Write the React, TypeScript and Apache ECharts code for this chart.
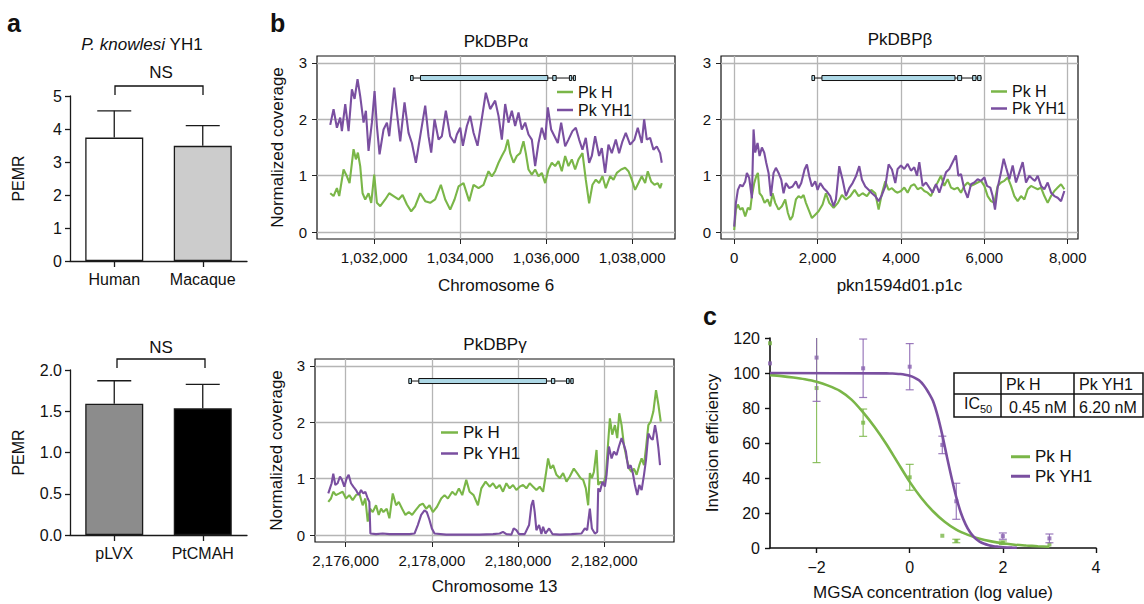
import React, { useEffect, useRef } from 'react';
import * as echarts from 'echarts';

const FONT = '"Liberation Sans", Arial, Helvetica, sans-serif';
const GREEN = '#7ab648';
const PURPLE = '#7a4fa0';
const INK = '#111111';

// ---------- Panel a ----------
const aTopCategories = ['Human', 'Macaque'];
const aTopMeans = [3.74, 3.49];
const aTopErrors = [0.81, 0.61];
const aTopColors = ['#ffffff', '#cccccc'];
const aBottomCategories = ['pLVX', 'PtCMAH'];
const aBottomMeans = [1.59, 1.535];
const aBottomErrors = [0.28, 0.29];
const aBottomColors = ['#8c8c8c', '#000000'];

// ---------- Panel b ----------
const covTicksY = [0, 1, 2, 3];
const alphaTicksX = [1032000, 1034000, 1036000, 1038000];
const betaTicksX = [0, 2000, 4000, 6000, 8000];
const gammaTicksX = [2176000, 2178000, 2180000, 2182000];
const GENE_Y = 2.73;

const alphaH = [[1030977,0.69],[1031054,0.64],[1031132,0.78],[1031186,0.64],[1031287,1.11],[1031364,0.99],[1031426,0.87],[1031519,1.47],[1031574,1.29],[1031620,1.41],[1031674,1.17],[1031729,0.69],[1031791,0.58],[1031868,0.69],[1031930,0.52],[1032000,1.02],[1032062,0.52],[1032140,0.46],[1032256,0.58],[1032349,0.69],[1032450,0.64],[1032566,0.58],[1032659,0.66],[1032760,0.49],[1032860,0.37],[1032953,0.46],[1033070,0.69],[1033186,0.55],[1033302,0.52],[1033418,0.58],[1033550,0.84],[1033651,0.58],[1033767,0.40],[1033868,0.58],[1033961,0.81],[1034077,0.87],[1034209,0.55],[1034310,0.84],[1034426,0.78],[1034542,0.84],[1034658,1.08],[1034736,0.99],[1034813,1.08],[1034891,1.23],[1034968,1.35],[1035046,1.46],[1035108,1.64],[1035162,1.40],[1035240,1.23],[1035317,1.35],[1035395,1.40],[1035472,1.61],[1035526,1.40],[1035588,1.11],[1035666,1.02],[1035743,1.11],[1035821,0.99],[1035898,1.05],[1035976,0.87],[1036053,1.11],[1036131,1.23],[1036208,1.17],[1036286,1.26],[1036363,1.08],[1036441,1.35],[1036518,1.17],[1036596,1.29],[1036673,1.11],[1036751,1.29],[1036844,1.40],[1036921,0.93],[1036999,0.51],[1037076,0.84],[1037154,0.93],[1037231,0.87],[1037309,0.99],[1037386,0.78],[1037487,0.99],[1037565,0.93],[1037642,1.05],[1037743,1.11],[1037836,1.14],[1037913,1.08],[1037991,0.93],[1038068,0.75],[1038146,0.87],[1038223,0.99],[1038301,0.87],[1038363,1.08],[1038440,0.90],[1038518,0.84],[1038595,0.87],[1038650,0.78],[1038688,0.87]];
const alphaYH1 = [[1030977,1.90],[1031054,2.18],[1031132,1.85],[1031209,2.03],[1031248,1.79],[1031326,2.27],[1031403,1.79],[1031481,2.53],[1031543,2.36],[1031612,2.71],[1031674,2.41],[1031752,1.94],[1031806,2.15],[1031868,1.44],[1031946,1.94],[1032008,2.50],[1032062,1.88],[1032124,1.38],[1032217,1.82],[1032295,1.94],[1032349,1.70],[1032465,2.56],[1032527,2.12],[1032605,1.61],[1032705,2.30],[1032798,1.76],[1032876,1.58],[1032969,1.23],[1033070,1.70],[1033186,2.24],[1033263,1.70],[1033325,1.41],[1033403,2.00],[1033496,1.64],[1033573,1.70],[1033666,2.15],[1033767,1.70],[1033868,1.58],[1033922,1.73],[1034000,1.85],[1034062,1.53],[1034155,1.88],[1034232,2.06],[1034310,1.76],[1034403,1.53],[1034488,1.94],[1034596,2.47],[1034697,2.18],[1034813,2.33],[1034891,2.06],[1034968,1.64],[1035046,2.27],[1035123,1.94],[1035201,2.15],[1035278,1.88],[1035356,2.12],[1035433,1.82],[1035511,1.94],[1035588,1.73],[1035666,1.64],[1035743,1.17],[1035821,1.58],[1035898,1.85],[1035976,1.64],[1036038,2.21],[1036115,1.82],[1036193,1.70],[1036270,1.58],[1036348,1.94],[1036441,1.52],[1036518,1.64],[1036611,1.79],[1036689,1.85],[1036766,1.64],[1036844,1.46],[1036921,1.67],[1036999,1.23],[1037061,1.35],[1037138,1.70],[1037231,1.35],[1037293,1.49],[1037371,1.05],[1037448,1.55],[1037526,1.40],[1037619,1.64],[1037696,1.40],[1037774,1.61],[1037851,1.76],[1037952,1.55],[1038053,1.64],[1038130,1.85],[1038223,1.58],[1038278,2.00],[1038340,1.64],[1038417,1.67],[1038495,1.46],[1038572,1.52],[1038650,1.40],[1038688,1.23]];
const betaH = [[0,0.04],[40,0.40],[88,0.49],[144,0.40],[200,0.43],[264,0.28],[328,0.43],[384,0.40],[424,0.64],[480,0.87],[528,0.99],[568,1.05],[608,0.69],[664,0.64],[728,0.52],[800,0.58],[864,0.46],[920,0.69],[984,0.52],[1064,0.40],[1144,0.46],[1224,0.58],[1288,0.34],[1344,0.22],[1400,0.28],[1480,0.58],[1544,0.64],[1608,0.61],[1664,0.66],[1720,0.52],[1784,0.40],[1864,0.25],[1944,0.31],[2024,0.37],[2120,0.49],[2200,0.69],[2280,0.52],[2384,0.43],[2488,0.52],[2584,0.66],[2680,0.58],[2784,0.64],[2888,0.75],[2984,0.64],[3080,0.69],[3184,0.64],[3288,0.75],[3384,0.69],[3464,0.40],[3544,0.69],[3624,0.90],[3704,0.75],[3784,0.78],[3864,0.72],[3920,0.70],[4000,0.73],[4080,0.79],[4160,0.70],[4240,0.82],[4320,0.85],[4400,0.76],[4480,0.79],[4560,0.73],[4640,0.70],[4720,0.64],[4800,0.79],[4880,0.88],[4960,1.00],[5040,0.82],[5120,0.94],[5200,0.79],[5280,0.76],[5360,0.79],[5440,0.70],[5520,0.82],[5600,0.88],[5680,0.82],[5760,0.85],[5840,0.88],[5920,0.91],[6000,0.82],[6080,0.64],[6160,0.55],[6240,0.52],[6320,0.82],[6400,0.88],[6480,0.91],[6560,0.97],[6640,0.82],[6720,0.64],[6800,0.55],[6880,0.64],[6960,0.58],[7040,0.76],[7120,0.82],[7200,0.79],[7280,0.76],[7360,0.79],[7440,0.64],[7520,0.52],[7600,0.64],[7680,0.73],[7760,0.79],[7840,0.85],[7920,0.76]];
const betaYH1 = [[0,0.10],[40,0.52],[88,0.75],[144,0.84],[200,0.81],[264,0.90],[304,1.05],[360,0.96],[424,0.60],[464,1.82],[504,1.41],[560,1.58],[608,1.35],[664,1.50],[720,1.41],[768,1.23],[824,1.05],[880,0.64],[944,1.05],[1000,1.14],[1064,1.05],[1128,0.93],[1184,0.69],[1240,0.87],[1320,0.78],[1400,0.81],[1480,0.90],[1544,0.78],[1608,0.87],[1688,1.11],[1744,1.20],[1800,0.99],[1864,0.81],[1944,0.90],[2000,0.75],[2064,0.87],[2144,0.78],[2224,0.72],[2304,0.64],[2384,0.46],[2440,0.58],[2520,1.17],[2600,0.93],[2680,0.64],[2760,0.78],[2840,0.87],[2920,0.99],[3000,1.17],[3064,0.93],[3144,0.81],[3224,0.75],[3304,0.69],[3384,0.64],[3464,0.55],[3544,0.66],[3624,0.81],[3704,1.20],[3784,1.11],[3864,0.87],[3920,1.12],[4000,1.18],[4080,1.12],[4160,1.21],[4240,1.09],[4320,1.15],[4384,1.00],[4440,1.24],[4520,0.82],[4600,0.88],[4680,0.79],[4760,0.70],[4840,0.85],[4920,0.70],[5000,0.88],[5080,1.06],[5160,1.12],[5240,1.24],[5320,1.36],[5376,1.00],[5440,1.03],[5520,0.76],[5600,0.61],[5680,0.85],[5760,0.88],[5840,0.94],[5920,0.91],[6000,0.97],[6064,0.82],[6144,0.79],[6200,0.64],[6256,0.40],[6320,0.79],[6400,1.06],[6464,1.30],[6520,1.15],[6600,0.94],[6680,1.18],[6760,0.88],[6840,1.06],[6920,1.24],[7000,0.88],[7080,1.00],[7160,0.94],[7216,0.91],[7280,1.00],[7360,0.82],[7440,0.76],[7520,0.88],[7600,0.70],[7680,0.64],[7760,0.61],[7840,0.55],[7920,0.73]];
const gammaH = [[2175597,0.59],[2175659,0.65],[2175713,0.77],[2175775,0.71],[2175853,0.74],[2175930,0.77],[2176008,0.65],[2176085,0.71],[2176163,0.62],[2176240,0.71],[2176318,0.74],[2176395,0.53],[2176457,0.65],[2176512,0.24],[2176566,0.47],[2176628,0.41],[2176705,0.53],[2176767,0.36],[2176822,0.47],[2176876,0.41],[2176953,0.47],[2177015,0.30],[2177093,0.74],[2177170,0.53],[2177232,0.59],[2177310,0.47],[2177387,0.36],[2177465,0.41],[2177542,0.36],[2177620,0.44],[2177713,0.53],[2177790,0.56],[2177868,0.47],[2177945,0.53],[2178023,0.41],[2178116,0.50],[2178217,0.65],[2178294,0.71],[2178372,0.65],[2178472,0.77],[2178550,0.71],[2178627,0.83],[2178705,0.71],[2178798,0.98],[2178875,0.77],[2178968,0.71],[2179069,0.53],[2179147,0.83],[2179247,0.95],[2179340,0.86],[2179418,0.92],[2179495,0.83],[2179573,0.89],[2179650,0.77],[2179728,0.92],[2179805,0.83],[2179883,0.89],[2179960,0.80],[2180038,0.86],[2180115,0.89],[2180193,0.83],[2180270,0.92],[2180348,0.86],[2180425,0.80],[2180503,0.86],[2180580,0.77],[2180642,1.07],[2180696,1.36],[2180751,1.18],[2180813,1.24],[2180890,1.07],[2180968,1.01],[2181045,1.10],[2181123,0.95],[2181200,1.04],[2181293,1.18],[2181370,1.10],[2181448,1.01],[2181510,0.98],[2181572,0.83],[2181626,0.53],[2181665,1.10],[2181712,1.01],[2181758,1.12],[2181820,1.51],[2181859,0.89],[2181913,0.95],[2181975,0.89],[2182037,1.07],[2182091,1.66],[2182130,2.07],[2182184,1.78],[2182246,1.95],[2182300,1.72],[2182347,2.16],[2182401,1.95],[2182455,1.60],[2182517,1.36],[2182579,1.18],[2182633,1.12],[2182688,1.18],[2182750,1.07],[2182812,1.24],[2182866,1.36],[2182921,1.24],[2182967,1.54],[2183022,1.95],[2183076,2.01],[2183138,2.19],[2183200,2.57],[2183255,2.31],[2183309,2.01]];
const gammaYH1 = [[2175597,0.74],[2175636,0.83],[2175675,0.92],[2175713,1.09],[2175760,0.89],[2175814,0.92],[2175868,1.04],[2175915,0.98],[2175969,0.86],[2176023,1.01],[2176070,1.07],[2176124,0.92],[2176178,0.86],[2176240,0.80],[2176302,0.71],[2176357,0.80],[2176411,0.74],[2176457,0.77],[2176512,0.65],[2176550,0.59],[2176574,0.03],[2176705,0.02],[2176860,0.03],[2177015,0.02],[2177248,0.02],[2177480,0.02],[2177597,0.03],[2177674,0.18],[2177752,0.36],[2177829,0.44],[2177883,0.41],[2177945,0.27],[2178000,0.12],[2178062,0.03],[2178333,0.01],[2178720,0.01],[2179108,0.01],[2179418,0.02],[2179573,0.03],[2179650,0.06],[2179728,0.02],[2179844,0.01],[2179898,0.12],[2179960,0.09],[2180022,0.02],[2180154,0.02],[2180255,0.18],[2180309,0.53],[2180348,0.62],[2180386,0.41],[2180425,0.09],[2180487,0.18],[2180541,0.02],[2180580,0.15],[2180634,0.03],[2180720,0.12],[2180797,0.02],[2180968,0.01],[2181239,0.02],[2181471,0.03],[2181549,0.12],[2181603,0.09],[2181665,0.47],[2181712,0.12],[2181781,0.03],[2181836,0.06],[2181859,0.83],[2181898,0.77],[2181960,0.95],[2182014,0.86],[2182053,1.07],[2182107,1.57],[2182169,1.36],[2182223,1.48],[2182285,1.42],[2182339,1.57],[2182401,1.72],[2182455,1.60],[2182502,1.48],[2182556,1.18],[2182610,1.24],[2182657,1.12],[2182711,0.89],[2182765,0.71],[2182812,0.89],[2182866,0.80],[2182921,1.07],[2182967,1.33],[2183022,1.80],[2183076,1.72],[2183123,1.69],[2183177,1.95],[2183216,1.78],[2183255,1.54],[2183293,1.24]];

const alphaGeneSpan = [1032845, 1036672];
const alphaGeneExons = [[1032845,1032905],[1033076,1036037],[1036153,1036232],[1036540,1036594],[1036633,1036672]];
const betaGeneSpan = [1864, 5936];
const betaGeneExons = [[1864,1928],[2104,5296],[5360,5456],[5720,5800],[5840,5920]];
const gammaGeneSpan = [2177465, 2181279];
const gammaGeneExons = [[2177465,2177527],[2177697,2180658],[2180774,2180851],[2181123,2181185],[2181224,2181279]];

// ---------- Panel c ----------
const cTicksX = [-2, 0, 2, 4];
const cDoseX = [-3, -2, -1, 0, 0.7, 1, 2, 3];
const cMeanH = [117, 91.4, 71.6, 40.4, 7, 4, 3, 2];
const cErrH = [0, 42.6, 7.8, 7.4, 0, 1, 1, 0];
const cMeanYH1 = [105.5, 108.8, 102.7, 103.6, 58.9, 26.7, 6.8, 5.5];
const cErrYH1 = [0, 25, 16.7, 13.2, 5, 10.3, 1.8, 2.5];
const cCurveH = [[-3,98.8],[-2.75,98.2],[-2.5,97.4],[-2.25,96.4],[-2,95.0],[-1.75,92.8],[-1.5,89.8],[-1.25,84.8],[-1,77.5],[-0.75,69.0],[-0.5,59.3],[-0.25,48.5],[0,37.8],[0.25,28.6],[0.5,21.0],[0.75,15.0],[1,10.5],[1.25,7.5],[1.5,5.3],[1.75,3.8],[2,2.7],[2.25,1.9],[2.5,1.4],[2.75,1.0],[3,0.7]];
const cCurveYH1 = [[-3,100],[-0.5,99.8],[-0.4,99.7],[-0.3,99.6],[-0.2,99.4],[-0.1,99.0],[0,98.4],[0.1,97.4],[0.2,95.8],[0.3,93.0],[0.4,89.0],[0.5,84.0],[0.6,75.5],[0.7,64.5],[0.8,52.0],[0.9,40.0],[1.0,29.0],[1.1,20.0],[1.2,13.5],[1.3,8.8],[1.4,5.7],[1.5,3.7],[1.6,2.4],[1.7,1.6],[1.8,1.0],[1.9,0.7],[2.0,0.45],[2.1,0.3],[2.2,0.2],[2.3,0.13]];
const ic50Header = ['Pk H', 'Pk YH1'];
const ic50Values = ['0.45 nM', '6.20 nM'];

const fmtBp = (v: number) => v.toLocaleString('en-US');

function renderUpperError(params: any, api: any) {
  const i = api.value(0);
  const m = api.value(1);
  const e = api.value(2);
  const base = api.coord([i, m]);
  const top = api.coord([i, m + e]);
  const hw = 17;
  const st = { stroke: '#1a1a1a', lineWidth: 1.3 };
  return {
    type: 'group',
    children: [
      { type: 'line', shape: { x1: base[0], y1: base[1], x2: top[0], y2: top[1] }, style: st },
      { type: 'line', shape: { x1: top[0] - hw, y1: top[1], x2: top[0] + hw, y2: top[1] }, style: st },
    ],
  };
}

function renderGene(params: any, api: any) {
  const kind = api.value(2);
  const a = api.coord([api.value(0), GENE_Y]);
  const b = api.coord([api.value(1), GENE_Y]);
  if (kind === 0) {
    return { type: 'line', shape: { x1: a[0], y1: a[1], x2: b[0], y2: b[1] }, style: { stroke: '#111', lineWidth: 1 } };
  }
  return {
    type: 'rect',
    shape: { x: a[0], y: a[1] - 2.5, width: Math.max(b[0] - a[0], 2), height: 5 },
    style: { fill: '#add8e6', stroke: '#111', lineWidth: 1 },
  };
}

function renderBothError(color: string) {
  return (params: any, api: any) => {
    const x = api.value(0);
    const m = api.value(1);
    const e = api.value(2);
    if (!e) return { type: 'group', children: [] };
    const lo = api.coord([x, m - e]);
    const hi = api.coord([x, m + e]);
    const hw = 4;
    const st = { stroke: color, lineWidth: 1.2, opacity: 0.85 };
    return {
      type: 'group',
      children: [
        { type: 'line', shape: { x1: lo[0], y1: lo[1], x2: hi[0], y2: hi[1] }, style: st },
        { type: 'line', shape: { x1: lo[0] - hw, y1: lo[1], x2: lo[0] + hw, y2: lo[1] }, style: st },
        { type: 'line', shape: { x1: hi[0] - hw, y1: hi[1], x2: hi[0] + hw, y2: hi[1] }, style: st },
      ],
    };
  };
}

const geneData = (span: number[], exons: number[][]) => [[span[0], span[1], 0], ...exons.map((e) => [e[0], e[1], 1])];

function barAxisX(idx: number, cats: string[]) {
  return {
    type: 'category', gridIndex: idx, data: cats,
    axisLine: { show: true, onZero: false, lineStyle: { color: '#1a1a1a', width: 1.3 } },
    axisTick: { show: true, alignWithLabel: true, length: 6, lineStyle: { color: '#1a1a1a', width: 1.3 } },
    axisLabel: { fontSize: 16, color: INK, margin: 10, fontFamily: FONT },
    splitLine: { show: false },
  };
}
function barAxisY(idx: number, max: number, interval: number, fmt: (v: number) => string) {
  return {
    type: 'value', gridIndex: idx, min: 0, max, interval,
    name: 'PEMR', nameLocation: 'middle', nameGap: 44,
    nameTextStyle: { fontSize: 16, color: INK, fontFamily: FONT },
    axisLine: { show: true, onZero: false, lineStyle: { color: '#1a1a1a', width: 1.3 } },
    axisTick: { show: true, length: 5, lineStyle: { color: '#1a1a1a', width: 1.3 } },
    axisLabel: { fontSize: 16, color: INK, margin: 8, formatter: fmt, fontFamily: FONT },
    splitLine: { show: false },
  };
}
function covAxisX(idx: number, min: number, max: number, ticks: number[], name: string) {
  return {
    type: 'value', gridIndex: idx, min, max,
    name, nameLocation: 'middle', nameGap: 38,
    nameTextStyle: { fontSize: 17, color: INK, fontFamily: FONT },
    axisLine: { show: false, onZero: false },
    axisTick: { show: true, inside: false, length: 5, customValues: ticks, lineStyle: { color: '#222', width: 1 } },
    axisLabel: { customValues: ticks, formatter: fmtBp, fontSize: 15, color: INK, margin: 11, fontFamily: FONT },
    splitLine: { show: true, lineStyle: { color: '#b5b5b5', width: 1.3 } },
  };
}
function covAxisY(idx: number, withName: boolean) {
  return {
    type: 'value', gridIndex: idx, min: -0.12, max: 3.12,
    name: withName ? 'Normalized coverage' : '', nameLocation: 'middle', nameGap: 31,
    nameTextStyle: { fontSize: 17, color: INK, fontFamily: FONT },
    axisLine: { show: false, onZero: false },
    axisTick: { show: true, inside: false, length: 5, customValues: covTicksY, lineStyle: { color: '#222', width: 1 } },
    axisLabel: { customValues: covTicksY, fontSize: 15, color: INK, margin: 10, fontFamily: FONT },
    splitLine: { show: true, lineStyle: { color: '#b5b5b5', width: 1.3 } },
  };
}

const covLine = (name: string, data: number[][], axis: number, color: string) => ({
  type: 'line', name, xAxisIndex: axis, yAxisIndex: axis, data,
  symbol: 'none', showSymbol: false, silent: true,
  lineStyle: { color, width: 2.1 }, itemStyle: { color },
});
const geneSeries = (axis: number, span: number[], exons: number[][]) => ({
  type: 'custom', xAxisIndex: axis, yAxisIndex: axis, data: geneData(span, exons),
  renderItem: renderGene, silent: true, z: 4, clip: false,
});

const legendBase = (left: number, top: number, fontSize: number, lineHeight: number, iw: number, ih: number) => ({
  data: ['Pk H', 'Pk YH1'], orient: 'vertical', left, top, padding: 0, itemGap: 0,
  icon: 'rect', itemWidth: iw, itemHeight: ih, selectedMode: false,
  textStyle: { fontSize, lineHeight, color: INK, fontFamily: FONT },
});

const txt = (text: string, x: number, y: number, fontSize: number, align = 'center', extra: any = {}) => ({
  type: 'text', x, y, silent: true,
  style: { text, fontSize, fontFamily: FONT, fill: INK, align, verticalAlign: 'middle', ...extra },
});
const seg = (x1: number, y1: number, x2: number, y2: number, lw = 1.3) => ({
  type: 'line', silent: true, shape: { x1, y1, x2, y2 }, style: { stroke: '#111', lineWidth: lw },
});

const option: any = {
  animation: false,
  backgroundColor: '#ffffff',
  textStyle: { fontFamily: FONT },
  grid: [
    { left: 70, top: 96, width: 177, height: 165, outerBoundsMode: 'none', containLabel: false },
    { left: 70, top: 370, width: 177, height: 165, outerBoundsMode: 'none', containLabel: false },
    { left: 317, top: 56, width: 358, height: 183, show: true, borderColor: '#111', borderWidth: 1.2, backgroundColor: 'transparent', outerBoundsMode: 'none', containLabel: false },
    { left: 721, top: 56, width: 357, height: 183, show: true, borderColor: '#111', borderWidth: 1.2, backgroundColor: 'transparent', outerBoundsMode: 'none', containLabel: false },
    { left: 315, top: 359, width: 359, height: 183, show: true, borderColor: '#111', borderWidth: 1.2, backgroundColor: 'transparent', outerBoundsMode: 'none', containLabel: false },
    { left: 770, top: 338, width: 326, height: 210, outerBoundsMode: 'none', containLabel: false },
  ],
  xAxis: [
    barAxisX(0, aTopCategories),
    barAxisX(1, aBottomCategories),
    covAxisX(2, 1030669, 1038996, alphaTicksX, 'Chromosome 6'),
    covAxisX(3, -317, 8247, betaTicksX, 'pkn1594d01.p1c'),
    { ...covAxisX(4, 2175289, 2183617, gammaTicksX, 'Chromosome 13'), nameGap: 36 },
    {
      type: 'value', gridIndex: 5, min: -3, max: 4,
      name: 'MGSA concentration (log value)', nameLocation: 'middle', nameGap: 36,
      nameTextStyle: { fontSize: 17, color: INK, fontFamily: FONT },
      axisLine: { show: true, onZero: false, lineStyle: { color: '#111', width: 1.6 } },
      axisTick: { show: true, length: 5, customValues: cTicksX, lineStyle: { color: '#111', width: 1.4 } },
      axisLabel: { customValues: cTicksX, fontSize: 16, color: INK, margin: 11, fontFamily: FONT,
        formatter: (v: number) => (v < 0 ? '\u2212' + Math.abs(v) : String(v)) },
      splitLine: { show: false },
    },
  ],
  yAxis: [
    barAxisY(0, 5, 1, (v: number) => String(v)),
    barAxisY(1, 2, 0.5, (v: number) => v.toFixed(1)),
    covAxisY(2, true),
    covAxisY(3, false),
    { ...covAxisY(4, true), nameGap: 30 },
    {
      type: 'value', gridIndex: 5, min: 0, max: 120, interval: 20,
      name: 'Invasion efficiency', nameLocation: 'middle', nameGap: 49,
      nameTextStyle: { fontSize: 17, color: INK, fontFamily: FONT },
      axisLine: { show: true, onZero: false, lineStyle: { color: '#111', width: 1.6 } },
      axisTick: { show: true, length: 5, lineStyle: { color: '#111', width: 1.4 } },
      axisLabel: { fontSize: 16, color: INK, margin: 10, fontFamily: FONT },
      splitLine: { show: false },
    },
  ],
  legend: [
    legendBase(557, 83, 16, 18, 16, 2.5),
    legendBase(991, 83, 16, 17, 16, 2.5),
    legendBase(441, 422, 17, 21, 17, 2.5),
    legendBase(1011, 447, 17, 19.5, 19, 3),
  ],
  series: [
    // panel a
    {
      type: 'bar', xAxisIndex: 0, yAxisIndex: 0, barWidth: 58, silent: true,
      itemStyle: { borderColor: '#1a1a1a', borderWidth: 1.3 },
      data: aTopMeans.map((v, i) => ({ value: v, itemStyle: { color: aTopColors[i], borderColor: '#1a1a1a', borderWidth: 1.3 } })),
    },
    {
      type: 'custom', xAxisIndex: 0, yAxisIndex: 0, z: 5, silent: true,
      data: aTopMeans.map((v, i) => [i, v, aTopErrors[i]]), renderItem: renderUpperError,
    },
    {
      type: 'bar', xAxisIndex: 1, yAxisIndex: 1, barWidth: 58, silent: true,
      itemStyle: { borderColor: '#1a1a1a', borderWidth: 1.3 },
      data: aBottomMeans.map((v, i) => ({ value: v, itemStyle: { color: aBottomColors[i], borderColor: '#1a1a1a', borderWidth: 1.3 } })),
    },
    {
      type: 'custom', xAxisIndex: 1, yAxisIndex: 1, z: 5, silent: true,
      data: aBottomMeans.map((v, i) => [i, v, aBottomErrors[i]]), renderItem: renderUpperError,
    },
    // panel b
    covLine('Pk H', alphaH, 2, GREEN),
    covLine('Pk YH1', alphaYH1, 2, PURPLE),
    geneSeries(2, alphaGeneSpan, alphaGeneExons),
    covLine('Pk H', betaH, 3, GREEN),
    covLine('Pk YH1', betaYH1, 3, PURPLE),
    geneSeries(3, betaGeneSpan, betaGeneExons),
    covLine('Pk H', gammaH, 4, GREEN),
    covLine('Pk YH1', gammaYH1, 4, PURPLE),
    geneSeries(4, gammaGeneSpan, gammaGeneExons),
    // panel c
    {
      type: 'line', name: 'Pk H', xAxisIndex: 5, yAxisIndex: 5, data: cCurveH, smooth: 0.3,
      symbol: 'none', showSymbol: false, silent: true, lineStyle: { color: GREEN, width: 2.6 }, itemStyle: { color: GREEN },
    },
    {
      type: 'line', name: 'Pk YH1', xAxisIndex: 5, yAxisIndex: 5, data: cCurveYH1, smooth: 0.3,
      symbol: 'none', showSymbol: false, silent: true, lineStyle: { color: PURPLE, width: 2.6 }, itemStyle: { color: PURPLE },
    },
    {
      type: 'custom', name: 'errH', xAxisIndex: 5, yAxisIndex: 5, clip: true, silent: true, z: 3,
      data: cDoseX.map((x, i) => [x, cMeanH[i], cErrH[i]]), renderItem: renderBothError(GREEN),
    },
    {
      type: 'custom', name: 'errYH1', xAxisIndex: 5, yAxisIndex: 5, clip: true, silent: true, z: 3,
      data: cDoseX.map((x, i) => [x, cMeanYH1[i], cErrYH1[i]]), renderItem: renderBothError('#8a63b0'),
    },
    {
      type: 'scatter', name: 'ptH', xAxisIndex: 5, yAxisIndex: 5, symbol: 'rect', symbolSize: 4, clip: false, silent: true,
      itemStyle: { color: GREEN }, data: cDoseX.map((x, i) => [x, cMeanH[i]]),
    },
    {
      type: 'scatter', name: 'ptYH1', xAxisIndex: 5, yAxisIndex: 5, symbol: 'rect', symbolSize: 4, clip: false, silent: true,
      itemStyle: { color: '#8a63b0' }, data: cDoseX.map((x, i) => [x, cMeanYH1[i]]),
    },
  ],
  graphic: [
    txt('a', 7, 23, 25, 'left', { fontWeight: 'bold' }),
    txt('b', 270, 23, 25, 'left', { fontWeight: 'bold' }),
    txt('c', 703, 316, 25, 'left', { fontWeight: 'bold' }),
    {
      type: 'text', x: 142, y: 44, silent: true,
      style: {
        text: '{i|P. knowlesi} YH1', fontSize: 17, fontFamily: FONT, fill: INK, align: 'center', verticalAlign: 'middle',
        rich: { i: { fontStyle: 'italic', fontSize: 17, fontFamily: FONT, fill: INK } },
      },
    },
    txt('NS', 161, 72, 17),
    { type: 'polyline', silent: true, shape: { points: [[115, 95], [115, 86], [203, 86], [203, 95]] }, style: { stroke: '#111', lineWidth: 1.3, fill: null } },
    txt('NS', 161, 347, 17),
    { type: 'polyline', silent: true, shape: { points: [[117, 368], [117, 359], [205, 359], [205, 368]] }, style: { stroke: '#111', lineWidth: 1.3, fill: null } },
    txt('PkDBP\u03b1', 496, 41, 17),
    txt('PkDBP\u03b2', 900, 39, 17),
    txt('PkDBP\u03b3', 495, 344, 17),
    // IC50 table
    { type: 'rect', silent: true, shape: { x: 954, y: 373, width: 189, height: 44 }, style: { fill: 'none', stroke: '#111', lineWidth: 1.5 } },
    seg(1001, 373, 1001, 417, 1.5),
    seg(1074, 373, 1074, 417, 1.5),
    seg(954, 394, 1143, 394, 1.5),
    txt(ic50Header[0], 1006, 384, 16, 'left'),
    txt(ic50Header[1], 1079, 384, 16, 'left'),
    txt('IC', 964, 403, 16, 'left'),
    txt('50', 980, 409, 11, 'left'),
    txt(ic50Values[0], 1009, 407, 16, 'left'),
    txt(ic50Values[1], 1079, 407, 16, 'left'),
  ],
};

export default function App() {
  const ref = useRef<HTMLDivElement>(null);
  useEffect(() => {
    if (!ref.current) return;
    const chart = echarts.init(ref.current, null, { renderer: 'svg' });
    chart.setOption(option);
    return () => chart.dispose();
  }, []);
  return (
    <div
      ref={ref}
      style={{ position: 'fixed', left: 0, top: 0, width: 1144, height: 604, background: '#ffffff' }}
    />
  );
}
